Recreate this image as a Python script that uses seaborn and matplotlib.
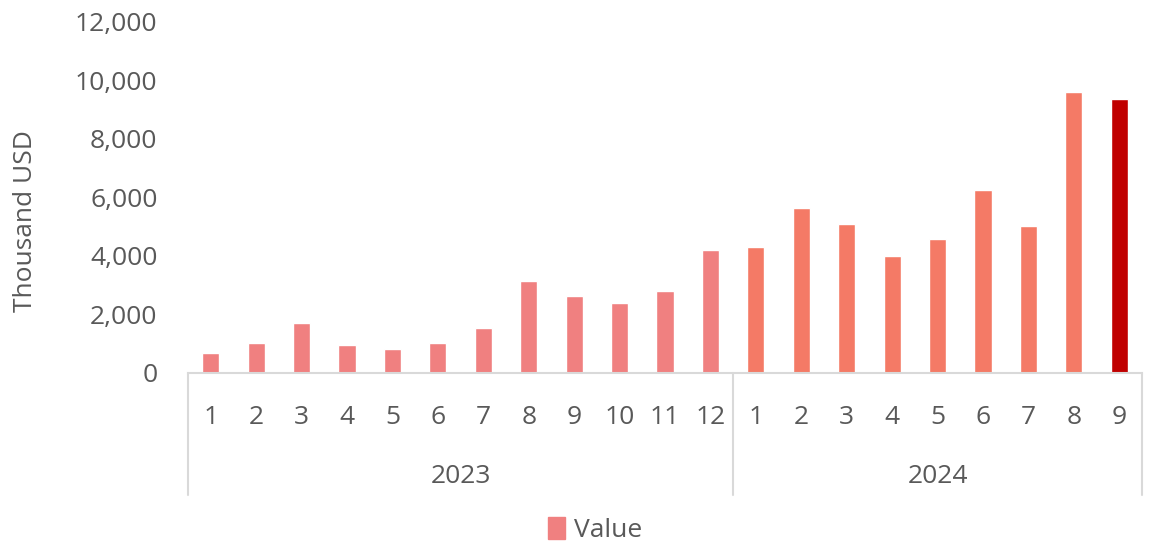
import pandas as pd
import seaborn as sns
import matplotlib.pyplot as plt
from matplotlib.patches import Patch
import matplotlib.transforms as mtransforms

# monthly values, thousand USD
years = ["2023"] * 12 + ["2024"] * 9
months = list(range(1, 13)) + list(range(1, 10))
values = [665, 1000, 1694, 939, 812, 1028, 1532, 3133, 2640, 2389, 2790, 4196,
          4309, 5646, 5098, 4000, 4583, 6263, 5029, 9589, 9349]

col_2023 = "#F08080"
col_2024 = "#F47A66"
col_last = "#C00000"
text_col = "#595959"
line_col = "#D9D9D9"
fs = 19

df = pd.DataFrame({"year": years, "month": months, "value": values})
df["period"] = df["year"] + "-" + df["month"].astype(str)
palette = {}
for i, row in df.iterrows():
    if i == len(df) - 1:
        palette[row["period"]] = col_last
    elif row["year"] == "2023":
        palette[row["period"]] = col_2023
    else:
        palette[row["period"]] = col_2024

sns.set_style("white")
plt.rcParams["font.family"] = ["Open Sans", "DejaVu Sans"]

fig = plt.figure(figsize=(11.53, 5.48), dpi=100)
ax = fig.add_axes([188 / 1153, 1 - 372.7 / 548, (1142 - 188) / 1153, 350.7 / 548])

sns.barplot(data=df, x="period", y="value", hue="period", palette=palette,
            legend=False, width=0.38, saturation=1, ax=ax)

ax.set_xlim(-0.5, 20.5)
ax.set_ylim(0, 12000)
ax.set_yticks(range(0, 12001, 2000))
ax.set_yticklabels([f"{v:,}" for v in range(0, 12001, 2000)])
ax.set_xticks(range(len(df)))
ax.set_xticklabels(df["month"].astype(str))
ax.tick_params(axis="x", length=0, pad=23, labelsize=fs, labelcolor=text_col)
ax.tick_params(axis="y", length=0, pad=22, labelsize=fs, labelcolor=text_col)
ax.set_xlabel("")
ax.set_ylabel("Thousand USD", fontsize=fs, color=text_col)
ax.yaxis.set_label_coords(-0.157, 0.433)

for s in ["top", "right", "left"]:
    ax.spines[s].set_visible(False)
ax.spines["bottom"].set_color(line_col)
ax.spines["bottom"].set_linewidth(1.5)

# year grouping below the axis
trans = mtransforms.blended_transform_factory(ax.transData, ax.transAxes)
for xs in [-0.5, 11.5, 20.5]:
    ax.plot([xs, xs], [0, -0.35], color=line_col, lw=1.5, transform=trans, clip_on=False)
ax.text(5.5, -0.297, "2023", transform=trans, ha="center", va="center",
        fontsize=fs, color=text_col)
ax.text(16, -0.297, "2024", transform=trans, ha="center", va="center",
        fontsize=fs, color=text_col)

fig.legend(handles=[Patch(color=col_2023, label="Value")], loc="center",
           bbox_to_anchor=(595 / 1153, 1 - 530 / 548), frameon=False,
           fontsize=fs, labelcolor=text_col, handlelength=0.65, handleheight=0.9,
           handletextpad=0.35)

fig.savefig("out.png", dpi=100)
